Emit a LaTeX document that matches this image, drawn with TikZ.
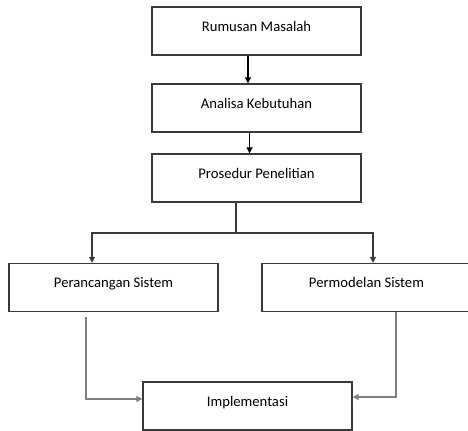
\documentclass[tikz,border=0pt]{standalone}
\usepackage{fontspec}
\setmainfont{Carlito}
\usetikzlibrary{arrows.meta}
\definecolor{garis}{HTML}{3A3A3A}
\definecolor{abu}{HTML}{808080}
\tikzset{
  kotak/.style={draw=garis, line width=1pt, minimum width=156.75pt, minimum height=36pt,
    text height=8pt, text depth=8pt, font=\fontsize{11}{13}\selectfont},
  panah/.style={line width=1pt, -{Triangle[width=4.5pt,length=4.5pt]}},
}
\begin{document}
\begin{tikzpicture}[x=0.75pt,y=-0.75pt]
			\useasboundingbox (0,0) rectangle (468,430);
			% kotak utama
			\node[kotak] (rumusan) at (256.5,31) {Rumusan Masalah};
			\node[kotak] (analisa) at (256.5,108) {Analisa Kebutuhan};
			\node[kotak] (prosedur) at (256.5,178) {Prosedur Penelitian};
			\node[kotak] (perancangan) at (113.5,287.5) {Perancangan Sistem};
			\node[kotak] (permodelan) at (366.5,287.5) {Permodelan Sistem};
			\node[kotak] (implementasi) at (247.5,406) {Implementasi};
			\coordinate (cabang) at (236,233);
			% alur
			\draw[panah] ([xshift=-6.4pt]rumusan.south) -- ([xshift=-6.4pt]analisa.north);
			\draw[panah] ([xshift=-5.2pt]analisa.south) -- ([xshift=-5.2pt]prosedur.north);
			\draw[line width=1pt, garis] (prosedur.south -| cabang) -- (cabang);
			\draw[panah, garis] (cabang) -| ([xshift=-16.1pt]perancangan.north);
			\draw[panah, garis] (cabang) -| ([xshift=4.9pt]permodelan.north);
			\draw[panah, abu] ([xshift=-20.6pt,yshift=-3.75pt]perancangan.south) |- ([yshift=5.25pt]implementasi.west);
			\draw[panah, abu] ([xshift=22.1pt]permodelan.south) |- ([yshift=6.75pt]implementasi.east);
		\end{tikzpicture}
\end{document}
